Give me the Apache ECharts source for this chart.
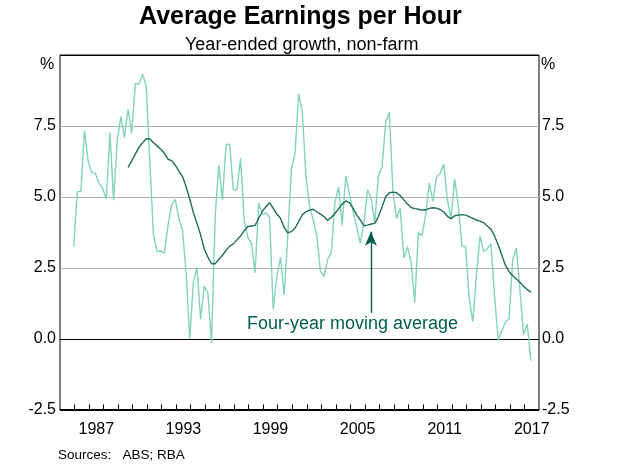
<!DOCTYPE html>
<html>
<head>
<meta charset="utf-8">
<script src="https://cdn.jsdelivr.net/npm/echarts@6/dist/echarts.min.js"></script>
<style>
html,body{margin:0;padding:0;background:#fff;}
#c{width:619px;height:467px;}
</style>
</head>
<body>
<div id="c"></div>
<script>
// Quarterly year-ended growth, Dec 1985 to Jun 2017
var firstQuarterTime = 1985.94; // Dec quarter 1985
var quarterStep = 0.25;
var earningsGrowth = [
3.25,5.19,5.19,7.34,6.24,5.86,5.83,5.48,5.31,4.93,
7.27,4.89,6.98,7.83,7.10,8.09,7.24,9.00,8.97,9.32,
8.90,6.20,3.66,3.08,3.10,3.02,4.01,4.72,4.92,4.25,
3.84,2.30,0.00,2.02,2.52,0.69,1.87,1.61,-0.13,4.31,
6.13,4.89,6.85,6.85,5.25,5.25,6.36,4.19,3.58,3.37,
2.33,4.78,4.37,4.44,4.28,1.04,2.20,2.88,1.55,3.60,
5.98,6.54,8.62,8.02,5.75,4.69,4.19,3.66,2.39,2.20,
2.81,3.03,4.81,5.35,4.01,5.74,5.10,4.50,3.95,3.37,
4.10,5.25,4.95,4.10,5.77,6.07,7.65,7.98,5.19,4.25,
4.60,2.84,3.25,2.70,1.28,3.75,3.63,4.35,5.50,4.85,
5.70,5.83,6.15,4.90,4.25,5.64,4.70,3.27,3.27,1.43,
0.61,2.25,3.63,3.08,3.17,3.36,1.50,-0.04,0.30,0.60,
0.71,2.80,3.20,1.70,0.16,0.53,-0.76
];
// Four-year moving average, starts at quarter index 15
var movingAvgStartIndex = 15;
var movingAverage = [
6.04,6.27,6.51,6.75,6.91,7.05,7.04,6.91,6.80,6.68,
6.54,6.33,6.28,6.12,5.91,5.72,5.36,4.92,4.45,4.07,
3.66,3.17,2.88,2.65,2.65,2.80,2.95,3.12,3.27,3.35,
3.49,3.63,3.81,3.96,3.98,4.00,4.25,4.50,4.66,4.80,
4.60,4.40,4.25,3.93,3.74,3.78,3.90,4.13,4.37,4.48,
4.54,4.57,4.48,4.40,4.31,4.17,4.28,4.42,4.58,4.75,
4.86,4.80,4.60,4.37,4.19,3.99,4.01,4.05,4.07,4.31,
4.66,5.01,5.15,5.17,5.15,5.05,4.90,4.75,4.63,4.59,
4.57,4.54,4.54,4.60,4.62,4.61,4.56,4.47,4.32,4.24,
4.34,4.36,4.38,4.36,4.31,4.25,4.19,4.15,4.09,3.98,
3.86,3.63,3.31,2.95,2.59,2.37,2.23,2.11,2.00,1.86,
1.74,1.65
];
var yearTicks = [];
for (var y = 1986; y <= 2017; y++) yearTicks.push(y);
var yearLabels = [1987, 1993, 1999, 2005, 2011, 2017];
var arrowTime = 2006.42, arrowFrom = 0.92, arrowTo = 3.78;

var lightData = earningsGrowth.map(function(v, i){ return [firstQuarterTime + quarterStep*i, v]; });
var maData = movingAverage.map(function(v, i){ return [firstQuarterTime + quarterStep*(i+movingAvgStartIndex), v]; });

var FONT = 'Arial, "Liberation Sans", sans-serif';
var chart = echarts.init(document.getElementById('c'), null, {renderer:'canvas'});
function yAxisCfg(pos){
  return {
    type:'value', position:pos, min:-2.5, max:10, interval:2.5,
    axisLine:{show:false}, axisTick:{show:false},
    axisLabel:{
      fontFamily:FONT, fontSize:16, color:'#000', margin: pos==='left'?4:3,
      formatter:function(v){ return v===10 ? '' : v.toFixed(1); }
    },
    splitLine:{show: pos==='left', lineStyle:{color:['#000','#000','#b0b0b0','#b0b0b0','#b0b0b0','#000'], width:1}}
  };
}
// helper axis whose zero sits just at the bottom edge, so the x axis line and ticks sit there
var baseAxis = {type:'value', min:-0.02, max:12.48, show:false, position:'left', offset:0,
  axisLine:{show:false}, axisTick:{show:false}, axisLabel:{show:false}, splitLine:{show:false}};
chart.setOption({
  animation:false,
  backgroundColor:'#fff',
  grid:{left:60, right:80, top:55, bottom:57, show:true, borderColor:'#000', borderWidth:1, containLabel:false},
  title:[
    {text:'Average Earnings per Hour', left:134, top:0, textStyle:{fontFamily:FONT, fontSize:25, fontWeight:'bold', color:'#000'}},
    {text:'Year-ended growth, non-farm', left:180, top:31, textStyle:{fontFamily:FONT, fontSize:18, fontWeight:'normal', color:'#000'}}
  ],
  xAxis:{
    type:'value', min:1985, max:2018, z:10,
    axisLine:{show:true, onZero:true, onZeroAxisIndex:2, lineStyle:{color:'#000', width:1}},
    axisTick:{show:true, inside:true, length:5, customValues:yearTicks, lineStyle:{color:'#000', width:1}},
    axisLabel:{show:true, customValues:yearLabels.map(function(y){return y+0.5;}), fontFamily:FONT, fontSize:16, color:'#000', margin:12,
      formatter:function(v){ return String(Math.floor(v)); }},
    splitLine:{show:false}
  },
  yAxis:[yAxisCfg('left'), yAxisCfg('right'), baseAxis],
  graphic:[
    {type:'text', left:40, top:57, style:{text:'%', font:'16px '+FONT, fill:'#000'}},
    {type:'text', left:541, top:57, style:{text:'%', font:'16px '+FONT, fill:'#000'}},
    {type:'text', left:247, top:315, style:{text:'Four-year moving average', font:'18px '+FONT, fill:'#00604a'}},
    {type:'text', left:58, top:448, style:{text:'Sources:   ABS; RBA', font:'13.5px '+FONT, fill:'#000'}}
  ],
  series:[
    {type:'line', data:lightData, symbol:'none', lineStyle:{color:'#82d5b6', width:1.4}, z:2},
    {type:'line', data:maData, symbol:'none', lineStyle:{color:'#1f6e55', width:1.4}, z:3,
      markLine:{silent:true, symbol:['none','arrow'], symbolSize:[9,14], label:{show:false},
        lineStyle:{color:'#00604a', width:1.4, type:'solid'},
        data:[[{coord:[arrowTime, arrowFrom]},{coord:[arrowTime, arrowTo]}]]}}
  ]
});
</script>
</body>
</html>
